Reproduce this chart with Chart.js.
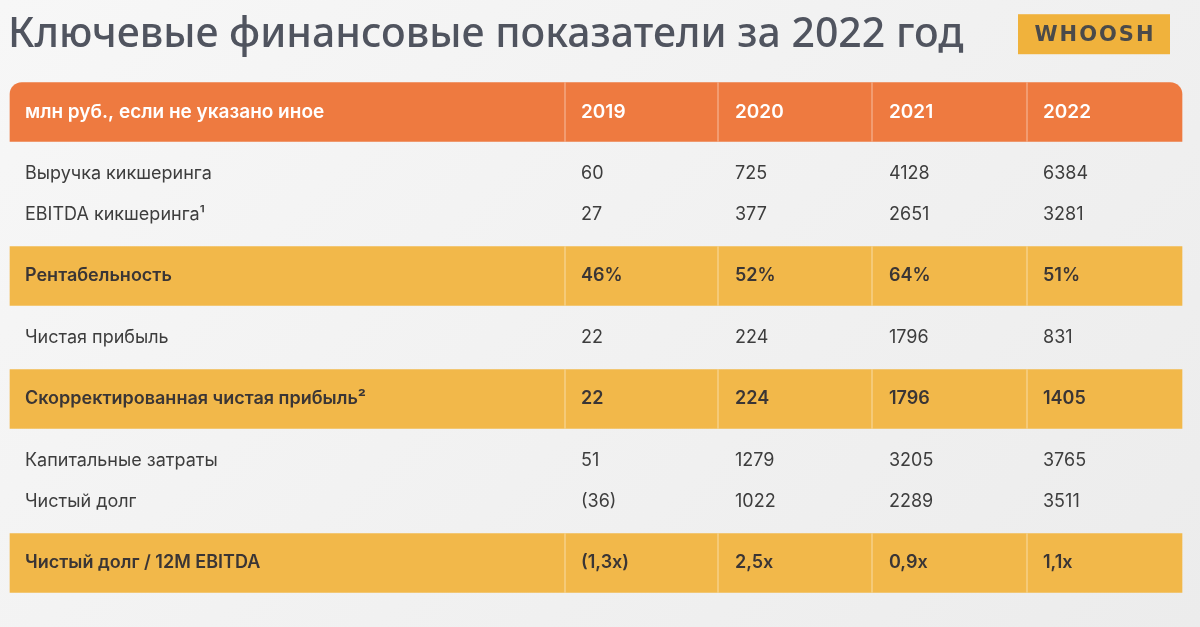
<!DOCTYPE html>
<html><head><meta charset="utf-8">
<script src="https://cdn.jsdelivr.net/npm/chart.js@4.4.1/dist/chart.umd.min.js"></script>
<style>html,body{margin:0;padding:0;background:#f4f4f4;}#w{width:1200px;height:627px;position:relative;background:linear-gradient(135deg,#f7f7f7,#ececec);}</style>
</head><body><div id="w"><canvas id="c" width="1200" height="627"></canvas></div>
<script>
const title = "Ключевые финансовые показатели за 2022 год";
const headerLabel = "млн руб., если не указано иное";
const years = ["2019","2020","2021","2022"];
const rowLabels = ["Выручка кикшеринга","EBITDA кикшеринга¹","Рентабельность","Чистая прибыль","Скорректированная чистая прибыль²","Капитальные затраты","Чистый долг","Чистый долг / 12M EBITDA"];
const v2019 = ["60","27","46%","22","22","51","(36)","(1,3x)"];
const v2020 = ["725","377","52%","224","224","1279","1022","2,5x"];
const v2021 = ["4128","2651","64%","1796","1796","3205","2289","0,9x"];
const v2022 = ["6384","3281","51%","831","1405","3765","3511","1,1x"];
const highlighted = [false,false,true,false,true,false,false,true];

// layout (row slots, column x positions in table units)
const rowSlot = [3,5,8,11,14,17,19,22];
const colX = [25,581,735,889,1043];
const sepX = [565,718,872,1027];
const tableL = 10, tableR = 1182;

const vals=[v2019,v2020,v2021,v2022];
const bandData=[{y:0,x:[tableL,tableR]}];
const bandColors=['#ee7a40'];
highlighted.forEach((h,i)=>{ if(h){bandData.push({y:rowSlot[i],x:[tableL,tableR]});bandColors.push('#f2b84a');}});

const textPlugin={id:'txt',afterDatasetsDraw(ch){
  const c=ch.ctx,xs=ch.scales.x,ys=ch.scales.y;
  c.save();
  c.strokeStyle='rgba(255,255,255,0.35)';c.lineWidth=1.5;
  bandData.forEach(b=>{const yc=ys.getPixelForValue(b.y);sepX.forEach(s=>{const px=xs.getPixelForValue(s);c.beginPath();c.moveTo(px,yc-29.5);c.lineTo(px,yc+29.5);c.stroke();});});
  c.textBaseline='middle';c.textAlign='left';
  c.fillStyle='#50545f';c.font='500 41px "Noto Sans"';
  c.fillText(title,xs.getPixelForValue(8),ys.getPixelForValue(-3.75));
  const lx=xs.getPixelForValue(1018),ly=ys.getPixelForValue(-4.77);
  c.fillStyle='#f0b23c';c.fillRect(lx,ly,152,40);
  c.fillStyle='#4a4a4a';c.font='bold 21px "DejaVu Sans"';c.textAlign='center';
  try{c.letterSpacing='2px';}catch(e){}
  c.fillText('WHOOSH',lx+77,ly+21);c.textAlign='left';
  try{c.letterSpacing='0px';}catch(e){}
  const hy=ys.getPixelForValue(0);
  c.fillStyle='#ffffff';c.font='600 19px Inter';
  c.fillText(headerLabel,xs.getPixelForValue(colX[0]),hy);
  years.forEach((yr,j)=>c.fillText(yr,xs.getPixelForValue(colX[j+1]),hy));
  rowLabels.forEach((l,i)=>{
    const py=ys.getPixelForValue(rowSlot[i]);
    c.fillStyle=highlighted[i]?'#3a3535':'#3d3d3d';
    c.font=(highlighted[i]?'600 ':'400 ')+'18px Inter';
    c.fillText(l,xs.getPixelForValue(colX[0]),py);
    vals.forEach((arr,j)=>c.fillText(arr[i],xs.getPixelForValue(colX[j+1]),py));
  });
  c.restore();
}};

new Chart(document.getElementById('c'),{
  type:'bar',
  data:{datasets:[{data:bandData,backgroundColor:bandColors,barThickness:59,borderSkipped:false,
    borderRadius:(ctx)=>ctx.dataIndex===0?{topLeft:12,topRight:12,bottomLeft:0,bottomRight:0}:0}]},
  options:{indexAxis:'y',responsive:false,animation:false,layout:{padding:0},
    plugins:{legend:{display:false},tooltip:{enabled:false}},
    scales:{x:{type:'linear',min:0,max:1200,display:false},
            y:{type:'linear',reverse:true,offset:false,min:-112/20.5,max:515/20.5,display:false}}},
  plugins:[textPlugin]
});
</script></body></html>
